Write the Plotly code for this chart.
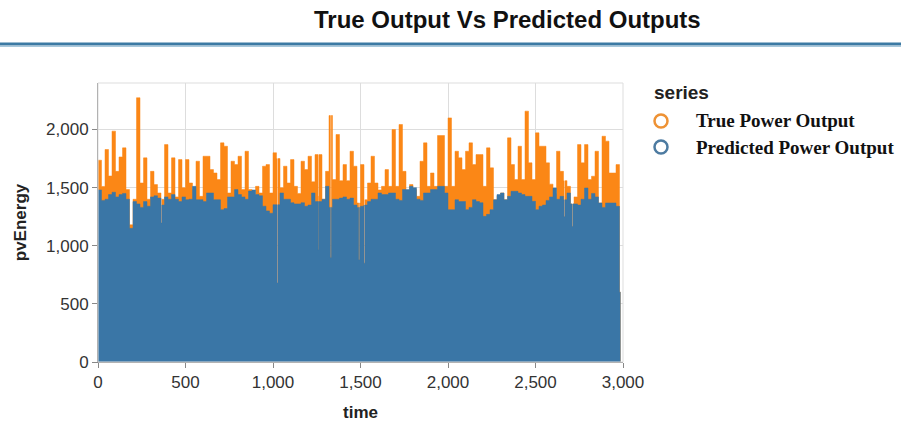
import plotly.graph_objects as go

true_power = [
    1736, 1510, 1828, 1600, 1986, 1640, 1764, 1842, 1483, 1180, 1400, 2273, 1540, 1756, 1400, 1640, 1526, 1454, 1400, 1870, 1454, 1756, 1420, 1741, 1500,
    1741, 1540, 1483, 1727, 1425, 1770, 1770, 1655, 1626, 1569, 1885, 1856, 1454, 1727, 1698, 1770, 1483, 1813, 1483, 1425, 1511, 1454, 1684, 1698, 1454,
    1800, 1750, 1500, 1684, 1540, 1741, 1511, 1450, 1727, 1655, 1770, 1550, 1784, 1425, 1400, 1640, 2120, 1569, 1957, 1560, 1698, 1560, 1813, 1684, 1368,
    1698, 1396, 1540, 1770, 1540, 1480, 1511, 1655, 1511, 2000, 1511, 2043, 1640, 1425, 1526, 1483, 1425, 1727, 1885, 1511, 1626, 1511, 1948, 1948, 1511,
    2100, 1511, 1813, 1756, 1655, 1813, 1885, 1698, 1784, 1784, 1511, 1842, 1670, 1396, 1430, 1454, 1396, 1928, 1698, 1569, 1856, 1569, 2158, 1713, 1569,
    1971, 1856, 1856, 1713, 1530, 1450, 1813, 1640, 1560, 1511, 1360, 1420, 1870, 1713, 1870, 1569, 1598, 1813, 1368, 1942, 1900, 1626, 1626, 1698,
    600, 600,
]
predicted_power = [
    1480, 1390, 1400, 1440, 1460, 1420, 1440, 1450, 1400, 1150, 1380, 1360, 1330, 1380, 1340, 1420, 1430, 1410, 1350, 1420, 1400, 1440, 1400, 1380, 1420,
    1396, 1400, 1511, 1396, 1396, 1380, 1454, 1454, 1396, 1396, 1310, 1320, 1420, 1420, 1483, 1440, 1420, 1400, 1470, 1480, 1440, 1430, 1340, 1300, 1280,
    1353, 1353, 1454, 1400, 1400, 1370, 1360, 1360, 1370, 1340, 1350, 1454, 1380, 1380, 1400, 1511, 1330, 1400, 1400, 1410, 1420, 1400, 1410, 1350, 1330,
    1340, 1350, 1380, 1400, 1400, 1454, 1440, 1440, 1454, 1454, 1400, 1390, 1483, 1483, 1511, 1500, 1400, 1390, 1454, 1454, 1483, 1483, 1511, 1511, 1454,
    1310, 1310, 1396, 1380, 1380, 1310, 1330, 1396, 1380, 1370, 1253, 1270, 1310, 1396, 1440, 1454, 1396, 1425, 1468, 1468, 1454, 1440, 1425, 1425, 1382,
    1310, 1340, 1350, 1390, 1420, 1497, 1400, 1425, 1396, 1454, 1360, 1360, 1350, 1400, 1497, 1400, 1450, 1420, 1368, 1330, 1368, 1368, 1368, 1339,
    600, 600,
]
time = [20 * i for i in range(149)] + [2980, 2986]

# narrow single-step drops visible as thin light lines
dip_time = [360, 1023, 1257, 1328, 1490, 1520, 2663, 2709]
dip_value = [1195, 680, 965, 900, 880, 850, 1250, 1166]

series_names = ["True Power Output", "Predicted Power Output"]
x_ticks = [0, 500, 1000, 1500, 2000, 2500, 3000]
y_ticks = [0, 500, 1000, 1500, 2000]

ORANGE = "#fb8716"
BLUE = "#3a76a6"
LEG_ORANGE = "#ee9234"
LEG_BLUE = "#4d7ba1"
DIP_W = 5

# plot area in pixels
W, H = 901, 425
L, R, T, B = 98, 623, 83, 362
pw, ph = R - L, B - T


def px(x):
    return (x - L) / pw


def py(y):
    return (B - y) / ph


def with_dips(values):
    pts = list(zip(time, values))
    for t, dv in zip(dip_time, dip_value):
        k = max(i for i, tt in enumerate(time) if tt <= t)
        pts.append((t, dv))
        pts.append((t + DIP_W, values[k]))
    pts.sort(key=lambda p: p[0])
    return [p[0] for p in pts], [p[1] for p in pts]


fig = go.Figure()
tx, ty = with_dips(true_power)
bx, by = with_dips(predicted_power)
fig.add_trace(go.Scatter(
    x=tx, y=ty, mode="lines", line=dict(shape="hv", width=0.5, color=ORANGE),
    fill="tozeroy", fillcolor=ORANGE, name=series_names[0], showlegend=False, hoverinfo="skip"))
fig.add_trace(go.Scatter(
    x=bx, y=by, mode="lines", line=dict(shape="hv", width=0.5, color=BLUE),
    fill="tozeroy", fillcolor=BLUE, name=series_names[1], showlegend=False, hoverinfo="skip"))

axis_common = dict(
    showgrid=True, gridcolor="#dddddd", gridwidth=1,
    showline=True, linecolor="#888888", linewidth=1,
    ticks="outside", ticklen=5, tickcolor="#888888",
    tickfont=dict(family="Liberation Sans, Arial", size=17, color="#333333"),
    tickformat=",", zeroline=False, automargin=False,
)

fig.update_xaxes(range=[0, 3000], tickvals=x_ticks, **axis_common,
                 title=dict(text="<b>time</b>", font=dict(family="Liberation Sans, Arial", size=17, color="#222"), standoff=14))
fig.update_yaxes(range=[0, 2400], tickvals=y_ticks, **axis_common,
                 title=dict(text="<b>pvEnergy</b>", font=dict(family="Liberation Sans, Arial", size=17, color="#222"), standoff=15))

# manual legend (symbol column + labels)
annotations = [
    dict(text="<b>True Output Vs Predicted Outputs</b>", xref="paper", yref="paper",
         x=px(507), y=py(20), xanchor="center", yanchor="middle", showarrow=False,
         font=dict(family="Liberation Sans, Arial", size=24, color="#111")),
    dict(text="<b>series</b>", xref="paper", yref="paper",
         x=px(652), y=py(92), xanchor="left", yanchor="middle", showarrow=False,
         font=dict(family="Liberation Sans, Arial", size=19, color="#222")),
]
shapes = [
    dict(type="rect", xref="paper", yref="paper", x0=0, x1=1, y0=0, y1=1,
         line=dict(color="#dddddd", width=1), layer="above"),
    dict(type="line", xref="paper", yref="paper", x0=px(0), x1=px(W), y0=py(44), y1=py(44),
         line=dict(color="#3c7aa4", width=3)),
    dict(type="line", xref="paper", yref="paper", x0=px(0), x1=px(W), y0=py(46.5), y1=py(46.5),
         line=dict(color="#a8c8dc", width=1)),
]
for i, (name, col) in enumerate(zip(series_names, [LEG_ORANGE, LEG_BLUE])):
    cy = 121 + 26 * i
    annotations.append(dict(
        text="<b>" + name + "</b>", xref="paper", yref="paper",
        x=px(694), y=py(cy), xanchor="left", yanchor="middle", showarrow=False,
        font=dict(family="Liberation Serif, Times New Roman", size=19, color="#111")))
    shapes.append(dict(
        type="circle", xref="paper", yref="paper",
        x0=px(661 - 6.5), x1=px(661 + 6.5), y0=py(cy + 6.5), y1=py(cy - 6.5),
        line=dict(color=col, width=2.5), fillcolor="rgba(0,0,0,0)"))

fig.update_layout(
    width=W, height=H,
    margin=dict(l=L, r=W - R, t=T, b=H - B, pad=0),
    paper_bgcolor="white", plot_bgcolor="white",
    showlegend=False,
    annotations=annotations,
    shapes=shapes,
)

fig.write_html("out.html")
